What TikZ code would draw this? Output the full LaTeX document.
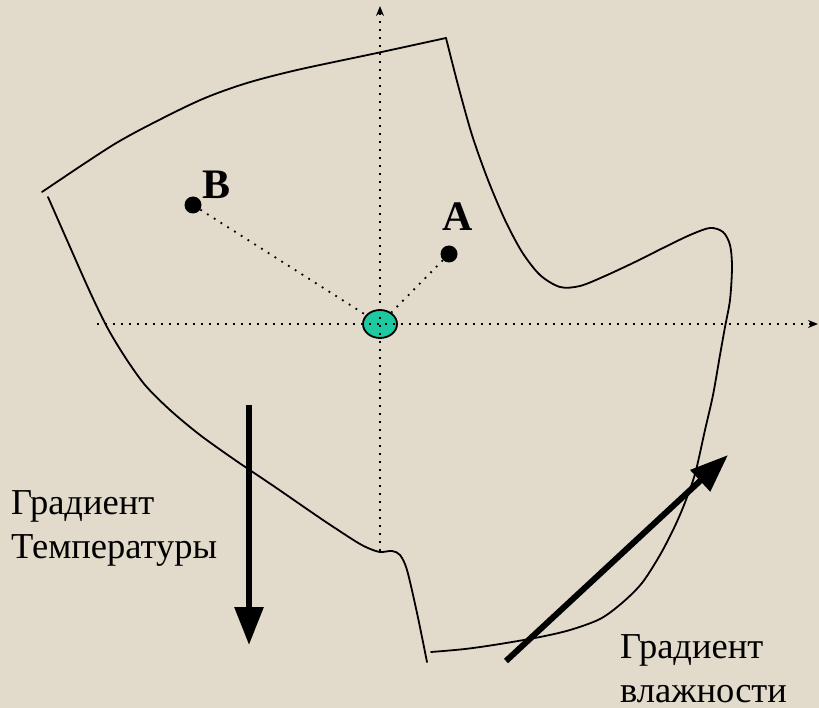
\documentclass[tikz,border=0pt]{standalone}
\usepackage{fontspec}
\setmainfont{Liberation Serif}
\usetikzlibrary{arrows.meta,shapes.geometric}
\definecolor{bgbeige}{RGB}{226,218,203}
\definecolor{blobgreen}{RGB}{30,200,160}
\begin{document}
\begin{tikzpicture}[x=1pt,y=-1pt,
  outline/.style={line width=1.8pt, line join=round, line cap=round},
  axisdots/.style={line width=1.8pt, dash pattern=on 1.8pt off 6.2pt, -{Stealth[length=10pt,width=8pt]}},
  linkdots/.style={line width=1.8pt, dash pattern=on 1.8pt off 6.2pt},
  grad/.style={line width=6pt, -{Triangle[length=38pt,width=28pt]}},
  lbl/.style={font=\fontsize{36.5}{44}\selectfont, align=left, inner sep=0pt},
  ptlbl/.style={font=\fontsize{42}{42}\selectfont\bfseries, inner sep=0pt},
  dotpt/.style={circle, fill=black, minimum size=17pt, inner sep=0pt},
  origin/.style={ellipse, draw=black, line width=1.8pt, fill=blobgreen, minimum width=34pt, minimum height=28pt, inner sep=0pt}]
\fill[bgbeige] (0,0) rectangle (819,708);
\useasboundingbox (0,0) rectangle (819,708);

% region outline: bottom and right
\draw[outline] plot[smooth, tension=0.5] coordinates {
  (431,652) (465,649) (500,644) (540,637) (570,630) (600,619) (622,603)
  (642,583) (660,555) (674,528) (684,505) (695,474) (705,430) (713,395)
  (720,355) (725,327) (730,300) (732,267) (730,245) (723,232) (710,228)
  (690,235) (665,247) (635,262) (605,276) (580,286) (560,287) (540,275)
  (522,252) (505,220) (488,180) (472,135) (458,85) (446,38)};
% top
\draw[outline] plot[smooth, tension=0.5] coordinates {
  (446,38) (377,53) (297,70) (247,83) (205,98) (163,118) (113,145) (42,192)};
% left and notch
\draw[outline] plot[smooth, tension=0.5] coordinates {
  (48,197) (70,247) (90,292) (107,327) (125,357) (145,385) (170,410)
  (200,435) (235,460) (275,487) (320,518) (355,541) (368,548) (380,552)
  (392,551) (400,555) (407,570) (417,613) (427,662)};

% origin and points
\node[origin] (o) at (380,324) {};
\node[dotpt] (b) at (193,205) {};
\node[dotpt] (a) at (449,254) {};
\node[ptlbl] (blbl) at (217,185) {B};
\node[ptlbl] (albl) at (458,217) {A};

% axes
\coordinate (xl) at (97,324);
\coordinate (xr) at (818,324);
\coordinate (yb) at (380,551);
\coordinate (yt) at (380,6);
\draw[axisdots] (xl) -- (xr);
\draw[axisdots] (yb) -- (yt);
\draw[linkdots] (b) -- (o);
\draw[linkdots] (a) -- (o);

% gradients
\coordinate (t1) at (249,405);
\coordinate (t2) at (249,645);
\draw[grad] (t1) -- (t2);
\coordinate (h1) at (506,661);
\coordinate (h2) at (728,455);
\draw[grad] (h1) -- (h2);

\node[lbl, anchor=north west] (tlbl) at (11,490) {Градиент\\Температуры};
\node[lbl, anchor=north west] (hlbl) at (620,634) {Градиент\\влажности};
\end{tikzpicture}
\end{document}
